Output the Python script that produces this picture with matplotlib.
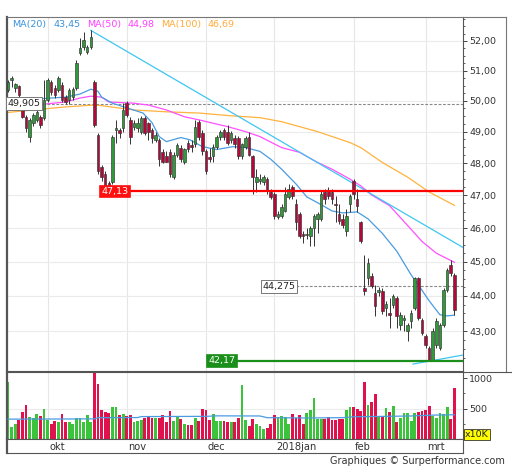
import matplotlib
matplotlib.use('Agg')
import matplotlib.pyplot as plt
from matplotlib.ticker import FixedLocator, NullFormatter, FuncFormatter
from matplotlib.lines import Line2D
import numpy as np

# ---------------- data ----------------
opens = [50.35,50.68,50.41,50.48,49.80,49.48,48.84,49.29,49.38,49.48,
         49.45,50.02,50.61,50.41,50.35,50.51,50.12,50.02,50.12,50.41,
         51.58,51.78,51.62,51.78,50.61,48.90,47.87,47.66,47.38,47.41,
         49.06,49.06,49.13,49.92,49.38,49.16,49.13,49.00,49.45,49.29,
         49.06,48.74,48.74,48.34,48.21,48.34,47.56,48.27,48.49,48.05,
         48.65,48.56,48.59,49.32,48.97,48.37,48.18,48.21,48.52,48.84,
         49.06,49.00,48.74,48.81,48.81,48.21,48.52,48.84,48.21,47.41,
         47.44,47.41,47.50,47.10,47.04,46.34,46.37,46.52,46.95,47.26,
         46.74,46.43,45.81,45.78,45.75,45.99,46.28,46.28,47.10,47.13,
         47.10,46.74,46.43,46.28,45.90,46.74,47.44,46.89,46.19,44.23,
         44.52,44.58,44.09,44.12,44.15,43.66,43.51,43.75,43.94,43.17,
         43.32,43.00,43.29,43.66,44.52,43.32,42.87,42.53,42.20,42.62,
         42.53,43.17,44.17,44.90,44.61]
highs = [50.68,50.81,50.58,50.51,50.02,49.54,49.45,49.60,49.77,49.54,
         50.68,50.75,50.68,50.51,50.81,50.61,50.19,50.41,50.45,51.35,
         52.09,52.29,51.85,52.36,50.68,48.97,47.93,47.75,47.44,48.90,
         49.38,49.13,49.92,49.99,49.48,49.38,49.45,49.51,49.51,49.32,
         49.13,49.00,48.81,48.43,48.37,48.43,48.34,48.65,48.56,48.49,
         48.74,48.74,49.38,49.38,49.06,48.43,48.49,48.59,48.90,49.06,
         49.13,49.22,49.03,48.90,48.87,48.65,48.87,49.00,48.27,47.81,
         47.66,47.63,47.56,47.19,47.10,46.52,46.74,47.26,47.35,47.32,
         46.89,46.49,45.90,45.99,46.05,46.43,46.49,47.13,47.19,47.26,
         47.19,46.98,46.74,46.43,46.58,47.04,47.50,47.19,46.22,45.19,
         45.10,44.66,44.32,44.26,44.23,43.86,43.94,44.06,44.00,43.54,
         43.46,43.23,43.60,44.55,44.55,43.37,42.92,42.59,43.09,43.37,
         43.23,44.23,44.81,45.04,44.66]
lows = [50.28,50.45,50.28,50.12,49.45,49.00,48.68,49.19,49.32,49.13,
        49.38,49.96,50.19,50.09,50.28,49.96,49.89,49.89,50.02,50.35,
        51.52,51.68,51.55,51.72,49.16,47.66,47.44,47.23,47.19,47.35,
        48.65,48.81,49.00,49.48,48.59,49.06,49.00,48.93,48.90,48.74,
        48.65,48.68,47.90,47.99,48.02,47.56,47.50,48.18,48.02,47.96,
        48.34,48.34,48.52,48.74,48.27,47.66,48.02,48.05,48.43,48.74,
        48.74,48.56,48.65,48.49,48.12,48.12,48.43,48.21,47.04,47.10,
        47.35,47.32,47.04,46.89,46.28,46.28,46.31,46.49,46.89,46.89,
        45.93,45.69,45.54,45.66,45.46,45.46,45.84,46.22,46.74,46.89,
        46.74,46.19,46.11,45.99,45.75,46.49,46.89,46.49,45.54,44.03,
        44.32,44.23,43.43,44.00,43.49,43.43,43.09,43.66,43.09,43.03,
        43.00,42.73,43.09,43.60,43.32,42.89,42.53,42.17,42.17,42.53,
        42.48,43.12,44.12,44.58,43.46]
closes = [50.61,50.75,50.55,50.19,49.48,49.13,49.38,49.54,49.64,49.22,
          50.02,50.68,50.28,50.19,50.75,50.02,49.96,50.35,50.38,51.25,
          51.75,52.02,51.78,52.12,49.22,47.75,47.56,47.29,47.26,48.84,
          49.13,48.97,49.70,49.54,48.84,49.29,49.29,49.45,48.97,49.00,
          48.81,48.90,48.12,48.05,48.05,47.66,48.27,48.56,48.12,48.43,
          48.43,48.52,49.16,48.84,48.37,47.75,48.12,48.52,48.84,49.00,
          48.84,48.65,48.97,48.59,48.21,48.59,48.81,48.27,47.56,47.56,
          47.50,47.56,47.13,46.95,46.37,46.43,46.65,47.04,47.19,46.98,
          46.19,45.75,45.75,45.81,45.99,46.37,46.43,47.04,46.89,46.98,
          46.89,46.71,46.22,46.08,46.37,46.98,47.04,46.68,45.60,44.15,
          44.96,44.29,43.72,44.17,43.57,43.77,43.46,44.00,43.43,43.46,
          43.37,43.17,43.51,44.52,43.37,42.95,42.62,42.20,43.00,43.29,
          43.17,44.17,44.75,44.66,43.60]
volumes = [944,199,253,309,451,561,364,342,408,375,
           500,320,253,298,287,418,282,282,243,342,
           352,282,391,271,1092,901,479,451,435,528,
           528,391,418,380,391,271,298,309,352,375,
           342,352,352,391,271,462,298,364,331,253,
           227,232,342,298,490,473,309,408,298,298,
           298,271,287,271,342,890,309,215,331,243,
           221,161,188,243,396,365,382,365,253,408,
           352,391,243,430,473,681,325,325,325,365,
           309,309,325,330,473,528,528,490,462,939,
           561,600,737,365,365,517,451,545,287,343,
           424,424,298,430,451,462,473,545,382,343,
           424,408,528,325,835]

ma20_idx = [0,3,7,12,16,20,23,25,26,29,33,37.5,40,42,44,48,50.5,54,58,62.5,66,70,73,76,80,83,87,90,93,97,100,104,108,112,114,117,120,122,124]
ma20_val = [50.02,50.09,50.05,50.09,50.12,50.22,50.38,50.31,50.12,49.92,49.77,49.60,49.29,48.84,48.68,48.81,48.74,48.52,48.43,48.52,48.49,48.37,48.12,47.81,47.35,46.95,46.71,46.52,46.46,46.49,46.28,45.84,45.31,44.61,44.32,43.86,43.46,43.43,43.45]
ma50_idx = [0,10,16,20,23,26,28,35,39,44,49,53,61,66,70,76,81,86,90,95,98,101,106,111,115,119,124]
ma50_val = [49.83,49.89,49.96,50.09,50.15,50.12,49.96,49.92,49.86,49.70,49.48,49.38,49.16,49.00,48.84,48.49,48.34,48.02,47.81,47.50,47.29,47.01,46.68,46.08,45.60,45.25,44.98]
ma100_idx = [0,7,16,24,26,35,44,53,62,70,76,86,95,98,104,111,117,124]
ma100_val = [49.62,49.70,49.80,49.86,49.84,49.70,49.64,49.60,49.51,49.45,49.32,49.00,48.65,48.49,48.02,47.56,47.10,46.69]
vma_idx = [0,24,25,36,37,55,58,70,72,83,93,96,105,112,118,124]
vma_val = [326,330,350,352,368,372,380,378,350,345,350,365,372,378,392,398]

legend_names = ['MA(20)', 'MA(50)', 'MA(100)']
legend_values = [43.45, 44.98, 46.69]

trend_hi_idx = [23, 126.4]
trend_hi_val = [52.36, 45.42]
trend_lo_idx = [112.5, 126.4]
trend_lo_val = [42.08, 42.33]

resist_level = 47.13
support_level = 42.17
dash_level_1 = 49.905
dash_level_2 = 44.275

month_idx = [11, 33, 55, 74, 96, 116]
month_labels = ['okt', 'nov', 'dec', '2018jan', 'feb', 'mrt']
price_ticks = [43, 44, 45, 46, 47, 48, 49, 50, 51, 52]
vol_ticks = [500, 1000]

# ---------------- figure ----------------
W, H = 512, 470
fig = plt.figure(figsize=(W / 100, H / 100), dpi=100)
fig.patch.set_facecolor('white')

def fx(px):
    return px / W

def fy(py):
    return 1 - py / H

L, R = 7, 463
ax = fig.add_axes([fx(L), fy(371), fx(R) - fx(L), fy(17) - fy(371)])
axv = fig.add_axes([fx(L), fy(439), fx(R) - fx(L), fy(372) - fy(439)])
axs = fig.add_axes([fx(L), fy(453), fx(R) - fx(L), fy(439) - fy(453)])

XLIM = (-0.28, 126.4)
frame_col = '#555555'
tcol = '#333333'
fs = 6.8

x = np.arange(len(closes))
o = np.array(opens); c = np.array(closes); hh = np.array(highs); ll = np.array(lows)
up = c >= o

# grid
for a in (ax, axv):
    for m in month_idx:
        a.axvline(m, color='#e6e6e6', lw=0.8, zorder=0)
for p in price_ticks:
    ax.axhline(p, color='#ebebeb', lw=0.8, zorder=0)
axv.axhline(500, color='#ececec', lw=0.8, zorder=0)

# moving averages
ax.plot(ma100_idx, ma100_val, color='#ffb23e', lw=0.9, zorder=2)
ax.plot(ma50_idx, ma50_val, color='#ff50ff', lw=0.9, zorder=2)
ax.plot(ma20_idx, ma20_val, color='#4a9be0', lw=0.9, zorder=2)

# trend lines
ax.plot(trend_hi_idx, trend_hi_val, color='#3ec6f0', lw=0.9, zorder=2)
ax.plot(trend_lo_idx, trend_lo_val, color='#3ec6f0', lw=0.9, zorder=2)

# horizontal levels
ax.axhline(dash_level_1, color='#888888', lw=0.8, ls=(0, (2.5, 1.5)), zorder=1)
ax.plot([80, XLIM[1]], [dash_level_2, dash_level_2], color='#888888', lw=0.8, ls=(0, (2.5, 1.5)), zorder=1)
ax.plot([33.9, XLIM[1]], [resist_level, resist_level], color='#ff0000', lw=1.6, zorder=5)
ax.plot([63.6, XLIM[1]], [support_level, support_level], color='#1a8f1a', lw=1.6, zorder=5)

# candles
ax.vlines(x, ll, hh, color='#333333', lw=0.7, zorder=3)
bottoms = np.minimum(o, c)
heights = np.maximum(np.abs(c - o), 0.015)
ax.bar(x, heights, bottom=bottoms, width=0.72,
       color=np.where(up, '#2f9a3a', '#b5083a'), edgecolor='#333333',
       linewidth=0.45, zorder=4)

# level label boxes
def fmt(v, d):
    return f"{v:.{d}f}".replace('.', ',')

ax.text(4.4, dash_level_1, fmt(dash_level_1, 3), fontsize=fs, color='#222222', ha='center', va='center',
        zorder=7, bbox=dict(boxstyle='square,pad=0.18', fc='white', ec='#777777', lw=0.7))
ax.text(75.3, dash_level_2, fmt(dash_level_2, 3), fontsize=fs, color='#222222', ha='center', va='center',
        zorder=7, bbox=dict(boxstyle='square,pad=0.18', fc='white', ec='#777777', lw=0.7))
ax.text(29.7, resist_level, fmt(resist_level, 2), fontsize=fs, color='white', ha='center', va='center',
        zorder=7, bbox=dict(boxstyle='square,pad=0.2', fc='#ff1010', ec='#ff1010', lw=0.5))
ax.text(59.4, support_level, fmt(support_level, 2), fontsize=fs, color='white', ha='center', va='center',
        zorder=7, bbox=dict(boxstyle='square,pad=0.2', fc='#1a8f1a', ec='#1a8f1a', lw=0.5))

ax.set_xlim(*XLIM)
ax.set_yscale('log')
ax.set_ylim(41.89, 52.82)
ax.set_xticks([])
ax.yaxis.tick_right()
ax.yaxis.set_major_locator(FixedLocator(price_ticks))
ax.yaxis.set_major_formatter(FuncFormatter(lambda v, p: fmt(v, 2)))
ax.yaxis.set_minor_locator(FixedLocator([42 + 0.25 * k for k in range(44) if (k % 4) != 0]))
ax.yaxis.set_minor_formatter(NullFormatter())
ax.tick_params(axis='y', which='major', direction='out', length=3, width=0.7, color='#444444',
               labelsize=fs, labelcolor=tcol, pad=1.5)
ax.tick_params(axis='y', which='minor', direction='out', length=1.6, width=0.6, color='#444444')

# volume
vcols = np.where(up, '#3cc33c', '#e0124e')
axv.bar(x, volumes, width=0.75, color=vcols, linewidth=0, zorder=2)
axv.plot(vma_idx, vma_val, color='#4a9be0', lw=0.9, zorder=3)
axv.set_xlim(*XLIM)
axv.set_ylim(0, 1100)
axv.set_xticks([])
axv.yaxis.tick_right()
axv.yaxis.set_major_locator(FixedLocator(vol_ticks))
axv.yaxis.set_major_formatter(FuncFormatter(lambda v, p: f"{int(v)}"))
axv.yaxis.set_minor_locator(FixedLocator([250, 750]))
axv.tick_params(axis='y', which='major', direction='out', length=3, width=0.7, color='#444444',
                labelsize=fs, labelcolor=tcol, pad=1.5)
axv.tick_params(axis='y', which='minor', direction='out', length=1.6, width=0.6, color='#444444')

# month label strip
axs.set_xlim(*XLIM)
axs.set_ylim(0, 1)
axs.set_xticks([]); axs.set_yticks([])
for m, lab in zip(month_idx, month_labels):
    axs.text(m + 0.45, 0.45, lab, fontsize=fs + 0.3, color=tcol, ha='left', va='center')

# spines
for a in (ax, axv, axs):
    for s in a.spines.values():
        s.set_color(frame_col)
        s.set_linewidth(0.8)
    a.spines['left'].set_linewidth(1.6)
    a.set_facecolor('white')
ax.spines['top'].set_color('#777777')

# outer frame pieces
fig.add_artist(Line2D([fx(R), fx(506)], [fy(17), fy(17)], color='#777777', lw=0.8))
fig.add_artist(Line2D([fx(506), fx(506)], [fy(17), fy(372)], color='#777777', lw=0.8))
fig.add_artist(Line2D([fx(R), fx(512)], [fy(371.7), fy(371.7)], color=frame_col, lw=0.8))

# legend
leg_cols = ['#3a93dc', '#ff40ff', '#ffaa3a']
leg_x = [(12, 54), (87, 128), (161, 208)]
for (xn, xv), name, val, col in zip(leg_x, legend_names, legend_values, leg_cols):
    fig.text(fx(xn), fy(25), name, fontsize=fs, color=col, ha='left', va='center')
    fig.text(fx(xv), fy(25), fmt(val, 2), fontsize=fs, color=col, ha='left', va='center')

# x10K box
fig.text(fx(465), fy(434.5), 'x10K', fontsize=fs, color='#222222', ha='left', va='center',
         bbox=dict(boxstyle='square,pad=0.12', fc='#ffff00', ec='#333333', lw=0.6))

fig.text(fx(505), fy(461), 'Graphiques \u00a9 Surperformance.com', fontsize=fs + 0.2,
         color='#333333', ha='right', va='center')

fig.savefig('out.png', dpi=100)
